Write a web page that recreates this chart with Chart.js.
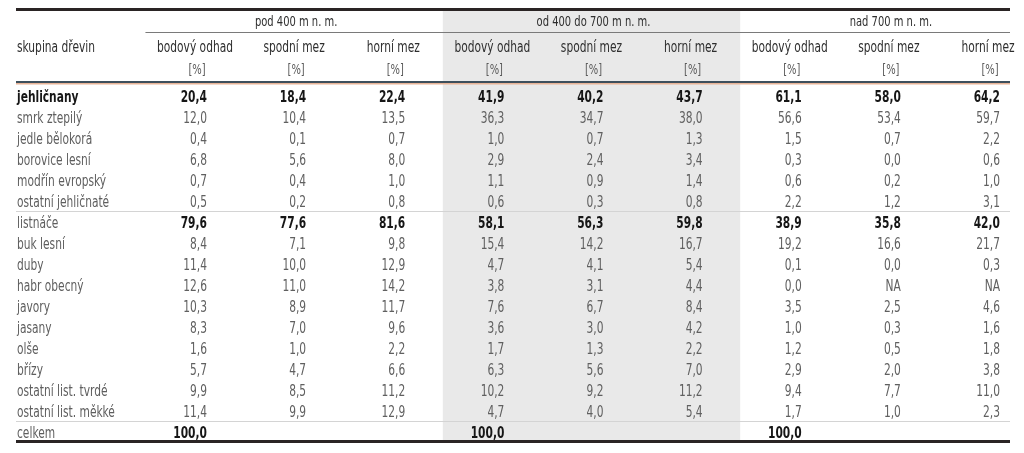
<!DOCTYPE html>
<html lang="cs">
<head>
<meta charset="utf-8">
<script src="https://cdn.jsdelivr.net/npm/chart.js@4.4.1/dist/chart.umd.min.js"></script>
<style>
  html, body { margin: 0; padding: 0; background: #fff; }
  #obal { width: 1024px; height: 453px; }
</style>
</head>
<body>
<div id="obal"><canvas id="tabulka"></canvas></div>
<script>
// Skupiny dřevin (řádky tabulky)
const dreviny = [
  'jehličnany', 'smrk ztepilý', 'jedle bělokorá', 'borovice lesní', 'modřín evropský',
  'ostatní jehličnaté', 'listnáče', 'buk lesní', 'duby', 'habr obecný', 'javory',
  'jasany', 'olše', 'břízy', 'ostatní list. tvrdé', 'ostatní list. měkké', 'celkem'
];

// Hlavičky
const pasma = ['pod 400 m n. m.', 'od 400 do 700 m n. m.', 'nad 700 m n. m.'];
const sloupce = ['bodový odhad', 'spodní mez', 'horní mez'];
const jednotka = '[%]';

// Hodnoty [%] — null = NA
const pod400Odhad  = [20.4, 12.0, 0.4, 6.8, 0.7, 0.5, 79.6, 8.4, 11.4, 12.6, 10.3, 8.3, 1.6, 5.7, 9.9, 11.4];
const pod400Spodni = [18.4, 10.4, 0.1, 5.6, 0.4, 0.2, 77.6, 7.1, 10.0, 11.0, 8.9, 7.0, 1.0, 4.7, 8.5, 9.9];
const pod400Horni  = [22.4, 13.5, 0.7, 8.0, 1.0, 0.8, 81.6, 9.8, 12.9, 14.2, 11.7, 9.6, 2.2, 6.6, 11.2, 12.9];
const stredOdhad   = [41.9, 36.3, 1.0, 2.9, 1.1, 0.6, 58.1, 15.4, 4.7, 3.8, 7.6, 3.6, 1.7, 6.3, 10.2, 4.7];
const stredSpodni  = [40.2, 34.7, 0.7, 2.4, 0.9, 0.3, 56.3, 14.2, 4.1, 3.1, 6.7, 3.0, 1.3, 5.6, 9.2, 4.0];
const stredHorni   = [43.7, 38.0, 1.3, 3.4, 1.4, 0.8, 59.8, 16.7, 5.4, 4.4, 8.4, 4.2, 2.2, 7.0, 11.2, 5.4];
const nad700Odhad  = [61.1, 56.6, 1.5, 0.3, 0.6, 2.2, 38.9, 19.2, 0.1, 0.0, 3.5, 1.0, 1.2, 2.9, 9.4, 1.7];
const nad700Spodni = [58.0, 53.4, 0.7, 0.0, 0.2, 1.2, 35.8, 16.6, 0.0, null, 2.5, 0.3, 0.5, 2.0, 7.7, 1.0];
const nad700Horni  = [64.2, 59.7, 2.2, 0.6, 1.0, 3.1, 42.0, 21.7, 0.3, null, 4.6, 1.6, 1.8, 3.8, 11.0, 2.3];
const celkem       = [100.0, 100.0, 100.0];

const tucneRadky = [0, 6, 16];

// Sestavení sloupců: bodové odhady mají navíc řádek "celkem"
const hodnotySloupcu = [
  pod400Odhad.concat([celkem[0]]), pod400Spodni, pod400Horni,
  stredOdhad.concat([celkem[1]]),  stredSpodni,  stredHorni,
  nad700Odhad.concat([celkem[2]]), nad700Spodni, nad700Horni
];

const PISMO = '"DejaVu Sans Condensed", "DejaVu Sans", sans-serif';
const ZUZENI = 0.79; // úzké písmo jako v originále
const POSUN = 12;    // hlavička je o kousek vlevo od pravého okraje čísel
const DOLU = 1.5;    // dorovnání účaří textu

const fmt = v => v === null ? 'NA' : v.toFixed(1).replace('.', ',');

// text vodorovně stlačený
function tisk(ctx, text, x, y, zarovnani) {
  ctx.save();
  ctx.translate(x, y + DOLU);
  ctx.scale(ZUZENI, 1);
  ctx.textAlign = zarovnani;
  ctx.fillText(text, 0, 0);
  ctx.restore();
}

// Kreslení tabulky přes škály grafu
const tabulkaPlugin = {
  id: 'tabulka',
  beforeDatasetsDraw(chart) {
    const { ctx, scales: { x, y } } = chart;
    const vlevo = 16, vpravo = 1010;
    ctx.save();

    // šedé pozadí prostředního pásma
    const s0 = x.getPixelForValue(2.5) - POSUN;
    const s1 = x.getPixelForValue(5.5) - POSUN;
    ctx.fillStyle = '#e9e9e9';
    ctx.fillRect(s0, 11, s1 - s0, 430);

    // horní silná čára
    ctx.fillStyle = '#2a2424';
    ctx.fillRect(vlevo, 8, vpravo - vlevo, 3);

    // čára pod pásmy
    const podX = x.getPixelForValue(-0.5) - POSUN;
    ctx.fillStyle = '#7a7a7a';
    ctx.fillRect(podX, 32, vpravo - podX, 1);

    // dvojitá čára pod hlavičkou
    ctx.fillStyle = '#3d4f5c';
    ctx.fillRect(vlevo, 81, vpravo - vlevo, 2);
    ctx.fillStyle = '#e8b497';
    ctx.fillRect(vlevo, 83, vpravo - vlevo, 1.5);

    // tenké oddělovače před "listnáče" a "celkem"
    ctx.fillStyle = '#d4d4d4';
    [5.5, 15.5].forEach(r => ctx.fillRect(vlevo, Math.round(y.getPixelForValue(r)) - 1, vpravo - vlevo, 1));

    // spodní silná čára
    ctx.fillStyle = '#2a2424';
    ctx.fillRect(vlevo, 440, vpravo - vlevo, 3);

    // hlavička
    ctx.textBaseline = 'middle';
    ctx.fillStyle = '#2e2e2e';
    ctx.font = '15px ' + PISMO;
    tisk(ctx, 'skupina dřevin', 17, 47, 'left');

    pasma.forEach((p, g) => {
      ctx.font = '14px ' + PISMO;
      tisk(ctx, p, x.getPixelForValue(g * 3 + 1) - POSUN + 2, 21, 'center');
    });
    for (let c = 0; c < 9; c++) {
      const cx = x.getPixelForValue(c) - POSUN;
      ctx.font = '15px ' + PISMO;
      ctx.fillStyle = '#2e2e2e';
      tisk(ctx, sloupce[c % 3], cx, 47, 'center');
      ctx.fillStyle = '#5a5a5a';
      ctx.font = '14px ' + PISMO;
      tisk(ctx, jednotka, cx + 2, 69, 'center');
    }

    // názvy dřevin
    dreviny.forEach((d, r) => {
      const hlavni = r === 0;
      ctx.font = (hlavni ? 'bold ' : '') + '15px ' + PISMO;
      ctx.fillStyle = hlavni ? '#161616' : '#5e5e5e';
      tisk(ctx, d, 17, y.getPixelForValue(r), 'left');
    });
    ctx.restore();
  },
  afterDatasetsDraw(chart) {
    const { ctx } = chart;
    ctx.save();
    ctx.textBaseline = 'middle';
    chart.data.datasets.forEach((ds, i) => {
      chart.getDatasetMeta(i).data.forEach((el, r) => {
        const tucne = tucneRadky.includes(r);
        ctx.font = (tucne ? 'bold ' : '') + '15px ' + PISMO;
        ctx.fillStyle = tucne ? '#161616' : '#606060';
        tisk(ctx, fmt(ds.hodnoty[r]), el.x, el.y, 'right');
      });
    });
    ctx.restore();
  }
};

new Chart(document.getElementById('tabulka'), {
  type: 'scatter',
  data: {
    datasets: hodnotySloupcu.map((h, c) => ({
      label: pasma[Math.floor(c / 3)] + ' – ' + sloupce[c % 3],
      hodnoty: h,
      data: h.map((v, r) => ({ x: c, y: r })),
      pointRadius: 0,
      pointHoverRadius: 0
    }))
  },
  options: {
    responsive: true,
    maintainAspectRatio: false,
    animation: false,
    events: [],
    layout: { padding: { left: 207, right: 24, top: 86, bottom: 10 } },
    plugins: { legend: { display: false }, tooltip: { enabled: false } },
    scales: {
      x: { type: 'linear', min: 0, max: 8, display: false },
      y: { type: 'linear', min: -0.5, max: 16.5, reverse: true, display: false }
    }
  },
  plugins: [tabulkaPlugin]
});
</script>
</body>
</html>
